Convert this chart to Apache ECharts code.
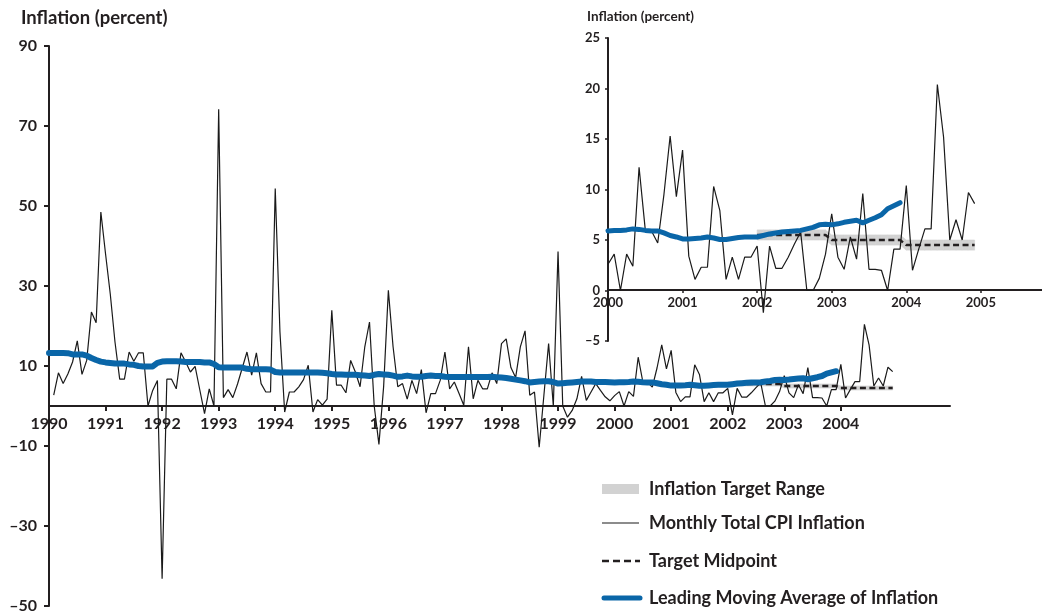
<!DOCTYPE html>
<html>
<head>
<meta charset="utf-8">
<script src="https://cdn.jsdelivr.net/npm/echarts@6/dist/echarts.min.js"></script>
<style>
  html, body { margin: 0; padding: 0; background: #ffffff; }
  #chart { width: 1042px; height: 611px; }
</style>
</head>
<body>
<div id="chart"></div>
<script>
// ---------------- DATA ----------------
const startYear = 1990; // first month of the series: January 1990
// Monthly total CPI inflation (percent), Jan 1990 .. Dec 2004
const cpi = [
  null, 2.7, 8.3, 5.6, 8.0, 11.0, 16.3, 7.9, 11.4, 23.5, 20.8, 48.5,      // 1990
  38.0, 28.0, 16.0, 6.7, 6.7, 13.5, 11.2, 13.3, 13.3, 0.0, 3.9, 6.4,      // 1991
  -43.2, 6.7, 6.7, 4.3, 13.3, 11.0, 8.5, 9.9, 4.0, -1.9, 4.3, 0.0,        // 1992
  74.2, 2.1, 4.1, 2.1, 5.5, 9.5, 13.5, 7.7, 13.3, 5.6, 3.5, 3.5,          // 1993
  54.4, 18.5, -1.5, 3.5, 3.5, 4.8, 6.6, 10.2, -1.5, 1.6, 0.2, 1.7,        // 1994
  23.9, 5.2, 5.2, 3.3, 11.4, 8.5, 4.8, 14.8, 21.0, 0.0, -9.6, 4.9,        // 1995
  28.9, 14.8, 4.8, 5.6, 1.7, 6.4, 3.1, 9.1, -1.7, 3.1, 3.1, 6.4,          // 1996
  13.5, 4.3, 6.0, 3.1, 0.2, 14.8, 1.8, 6.4, 4.3, 4.3, 8.3, 5.6,           // 1997
  15.6, 16.8, 9.6, 7.1, 14.8, 18.8, 2.7, 3.5, -10.3, 2.7, 15.6, 0.0,      // 1998
  38.6, 0.0, -2.8, -1.1, 1.8, 7.4, 1.4, 3.5, 5.6, 3.9, 2.3, 1.3,          // 1999
  2.6, 3.6, 0.0, 3.6, 2.4, 12.2, 6.0, 5.9, 4.7, 9.5, 15.3, 9.3,           // 2000
  13.9, 3.4, 1.1, 2.3, 2.3, 10.3, 7.9, 1.1, 3.3, 1.1, 3.3, 3.3,           // 2001
  4.4, -2.2, 4.4, 2.2, 2.2, 3.3, 4.6, 5.8, 0.0, 0.0, 1.2, 3.6,            // 2002
  7.6, 3.3, 2.1, 5.3, 3.1, 9.6, 2.1, 2.1, 2.0, 0.0, 4.1, 4.1,             // 2003
  10.4, 2.0, 4.1, 6.1, 6.1, 20.4, 15.2, 5.0, 7.0, 5.0, 9.7, 8.6           // 2004
];
// Leading moving average of inflation, Jan 1990 .. Dec 2003
const movingAvg = [
  13.25, 13.25, 13.25, 13.25, 13.2, 12.9, 12.9, 12.9, 12.6, 12.0, 11.5, 11.1,   // 1990
  10.9, 10.75, 10.6, 10.6, 10.6, 10.4, 10.3, 10.0, 9.9, 9.9, 9.9, 10.8,         // 1991
  11.1, 11.2, 11.2, 11.2, 11.1, 11.0, 11.0, 11.0, 11.0, 10.9, 10.9, 10.5,       // 1992
  9.7, 9.6, 9.6, 9.6, 9.6, 9.6, 9.3, 9.2, 9.2, 9.2, 9.2, 9.1,                   // 1993
  8.5, 8.4, 8.4, 8.4, 8.4, 8.4, 8.4, 8.4, 8.4, 8.4, 8.3, 8.2,                   // 1994
  8.0, 7.9, 7.9, 7.8, 7.8, 7.8, 7.7, 7.6, 7.5, 7.8, 8.0, 7.9,                   // 1995
  7.8, 7.6, 7.3, 7.4, 7.6, 7.4, 7.3, 7.3, 7.5, 7.6, 7.5, 7.5,                   // 1996
  7.3, 7.25, 7.25, 7.25, 7.25, 7.25, 7.25, 7.25, 7.25, 7.25, 7.3, 7.2,          // 1997
  7.1, 7.0, 6.8, 6.6, 6.4, 6.2, 5.9, 6.0, 6.1, 6.2, 6.2, 6.0,                   // 1998
  5.6, 5.7, 5.8, 5.9, 6.0, 6.1, 6.1, 6.1, 6.0, 6.0, 6.0, 5.95,                  // 1999
  5.9, 5.95, 5.95, 6.0, 6.1, 6.05, 5.95, 5.9, 5.9, 5.7, 5.45, 5.3,              // 2000
  5.1, 5.1, 5.15, 5.2, 5.3, 5.2, 5.05, 5.05, 5.15, 5.25, 5.3, 5.3,              // 2001
  5.3, 5.45, 5.6, 5.7, 5.8, 5.85, 5.9, 5.95, 6.1, 6.25, 6.5, 6.55,              // 2002
  6.5, 6.6, 6.75, 6.85, 6.95, 6.7, 6.95, 7.2, 7.5, 8.1, 8.4, 8.7                // 2003
];
// Inflation target by year
const targetYears = [2002, 2003, 2004];
const targetMid   = [5.5, 5.0, 4.5];
const targetLow   = [5.0, 4.5, 4.0];
const targetHigh  = [6.0, 5.5, 5.0];
// Tick labels
const mainXTicks  = [1990, 1991, 1992, 1993, 1994, 1995, 1996, 1997, 1998, 1999, 2000, 2001, 2002, 2003, 2004];
const insetXTicks = [2000, 2001, 2002, 2003, 2004, 2005];
const legendLabels = ['Inflation Target Range', 'Monthly Total CPI Inflation', 'Target Midpoint', 'Leading Moving Average of Inflation'];
const axisTitle = 'Inflation (percent)';

// ---------------- BUILD ----------------
const monthX = i => startYear + i / 12;
const toPairs = (arr, fromYear) => arr.map((v, i) => [monthX(i), v]).filter(p => p[0] >= fromYear - 1e-9);

// monthly target rows: [x, low, mid, high]
const targetRows = [];
targetYears.forEach((y, k) => {
  for (let m = 0; m < 12; m++) targetRows.push([y + m / 12, targetLow[k], targetMid[k], targetHigh[k]]);
});
const midData = targetRows.map(r => [r[0], r[2]]);

const INK = '#231f20';
const BLUE = '#0a66a8';
const GRAY = '#d2d2d2';
const FONT = 'Lato';

const dashFmt = v => (v < 0 ? '\u2013' + Math.abs(v) : String(v));
const yearFmt = v => String(Math.round(v));

const MAIN = { min: 1990, max: 2005.93, ymin: -50, ymax: 90 };
const INSET = { min: 2000, max: 2005.82, ymin: -5, ymax: 25 };

function bandRender(params, api) {
  const i = params.dataIndex;
  if (i >= targetRows.length - 1) return null;
  const a = targetRows[i], b = targetRows[i + 1];
  const pts = [api.coord([a[0], a[1]]), api.coord([b[0], b[1]]), api.coord([b[0], b[3]]), api.coord([a[0], a[3]])];
  return { type: 'polygon', shape: { points: pts }, style: { fill: GRAY, stroke: GRAY, lineWidth: 0.6 } };
}

function seriesSet(ax, fromYear, maWidth) {
  return [
    { type: 'custom', xAxisIndex: ax, yAxisIndex: ax, data: targetRows, renderItem: bandRender,
      encode: { x: 0, y: [1, 3] }, silent: true, clip: true, z: 1 },
    { type: 'line', xAxisIndex: ax, yAxisIndex: ax, data: toPairs(cpi, fromYear), symbol: 'none',
      connectNulls: false, lineStyle: { color: '#1a1a1a', width: 1.2 }, z: 2 },
    { type: 'line', xAxisIndex: ax, yAxisIndex: ax, data: midData, symbol: 'none',
      lineStyle: { color: INK, width: 2.4, type: [6, 3.5] }, z: 3 },
    { type: 'line', xAxisIndex: ax, yAxisIndex: ax, data: toPairs(movingAvg, fromYear), symbol: 'none',
      lineStyle: { color: BLUE, width: maWidth, cap: 'round', join: 'round' }, z: 4 }
  ];
}

const legendX = 602, legendTextX = 649;
const legendYs = [489, 523, 561, 598];
const legendFont = 'bold 18px ' + FONT;

const hiddenAxis = (grid, o) => Object.assign({ type: 'value', gridIndex: grid, show: false, splitLine: { show: false } }, o);

const option = {
  animation: false,
  backgroundColor: '#ffffff',
  textStyle: { fontFamily: FONT },
  grid: [
    // 0: main plotting grid (series)
    { left: 49, right: 92, top: 46, bottom: 5, containLabel: false, outerBoundsMode: 'none' },
    // 1: inset plotting grid (series)
    { left: 608, right: 0, top: 38, bottom: 270, containLabel: false, outerBoundsMode: 'none' },
    // 2: main time axis, bottom edge at the zero line of grid 0
    { left: 49, right: 92, top: 46, bottom: 205, containLabel: false, outerBoundsMode: 'none' },
    // 3: inset time axis, bottom edge at the zero line of grid 1
    { left: 608, right: 0, top: 38, bottom: 321, containLabel: false, outerBoundsMode: 'none' }
  ],
  xAxis: [
    hiddenAxis(0, { min: MAIN.min, max: MAIN.max }),
    hiddenAxis(1, { min: INSET.min, max: INSET.max }),
    { type: 'value', gridIndex: 2, min: MAIN.min, max: MAIN.max, interval: 1, position: 'bottom',
      splitLine: { show: false },
      axisLine: { show: true, onZero: false, lineStyle: { color: INK, width: 2 } },
      axisTick: { show: true, length: 5, customValues: mainXTicks, lineStyle: { color: INK, width: 2 } },
      axisLabel: { customValues: mainXTicks, margin: 10, color: INK, fontFamily: FONT, fontWeight: 'bold', fontSize: 16, formatter: yearFmt } },
    { type: 'value', gridIndex: 3, min: INSET.min, max: INSET.max, interval: 1, position: 'bottom',
      splitLine: { show: false },
      axisLine: { show: true, onZero: false, lineStyle: { color: INK, width: 2 } },
      axisTick: { show: true, length: 3, customValues: insetXTicks, lineStyle: { color: INK, width: 1.5 } },
      axisLabel: { customValues: insetXTicks, margin: 6, color: INK, fontFamily: FONT, fontWeight: 'bold', fontSize: 13, formatter: yearFmt } }
  ],
  yAxis: [
    { type: 'value', gridIndex: 0, min: MAIN.ymin, max: MAIN.ymax, interval: 20,
      splitLine: { show: false },
      axisLine: { show: true, onZero: false, lineStyle: { color: INK, width: 2 } },
      axisTick: { show: true, length: 5, lineStyle: { color: INK, width: 2 } },
      axisLabel: { margin: 12, color: INK, fontFamily: FONT, fontWeight: 'bold', fontSize: 16, formatter: dashFmt } },
    { type: 'value', gridIndex: 1, min: INSET.ymin, max: INSET.ymax, interval: 5,
      splitLine: { show: false },
      axisLine: { show: true, onZero: false, lineStyle: { color: INK, width: 2 } },
      axisTick: { show: true, length: 3, lineStyle: { color: INK, width: 1.5 } },
      axisLabel: { margin: 8, color: INK, fontFamily: FONT, fontWeight: 'bold', fontSize: 13, formatter: dashFmt } },
    hiddenAxis(2, { min: 0, max: MAIN.ymax }),
    hiddenAxis(3, { min: 0, max: INSET.ymax })
  ],
  series: [].concat(seriesSet(0, 1990, 6), seriesSet(1, 2000, 5)),
  graphic: [
    { type: 'text', left: 21, top: 9, style: { text: axisTitle, font: 'bold 18.5px ' + FONT, fill: INK } },
    { type: 'text', left: 587, top: 10, style: { text: axisTitle, font: 'bold 13.5px ' + FONT, fill: INK } },
    // legend
    { type: 'rect', shape: { x: legendX, y: legendYs[0] - 5, width: 37, height: 10 }, style: { fill: GRAY } },
    { type: 'line', shape: { x1: legendX, y1: legendYs[1], x2: legendX + 37, y2: legendYs[1] }, style: { stroke: '#1a1a1a', lineWidth: 1.2 } },
    { type: 'line', shape: { x1: legendX, y1: legendYs[2], x2: legendX + 38, y2: legendYs[2] }, style: { stroke: INK, lineWidth: 2.4, lineDash: [7, 4] } },
    { type: 'line', shape: { x1: legendX + 2, y1: legendYs[3], x2: legendX + 38, y2: legendYs[3] }, style: { stroke: BLUE, lineWidth: 5, lineCap: 'round' } },
    { type: 'text', x: legendTextX, y: legendYs[0], style: { text: legendLabels[0], font: legendFont, fill: INK, textVerticalAlign: 'middle' } },
    { type: 'text', x: legendTextX, y: legendYs[1], style: { text: legendLabels[1], font: legendFont, fill: INK, textVerticalAlign: 'middle' } },
    { type: 'text', x: legendTextX, y: legendYs[2], style: { text: legendLabels[2], font: legendFont, fill: INK, textVerticalAlign: 'middle' } },
    { type: 'text', x: legendTextX, y: legendYs[3], style: { text: legendLabels[3], font: legendFont, fill: INK, textVerticalAlign: 'middle' } }
  ]
};

const chart = echarts.init(document.getElementById('chart'), null, { renderer: 'canvas' });
chart.setOption(option);
</script>
</body>
</html>
